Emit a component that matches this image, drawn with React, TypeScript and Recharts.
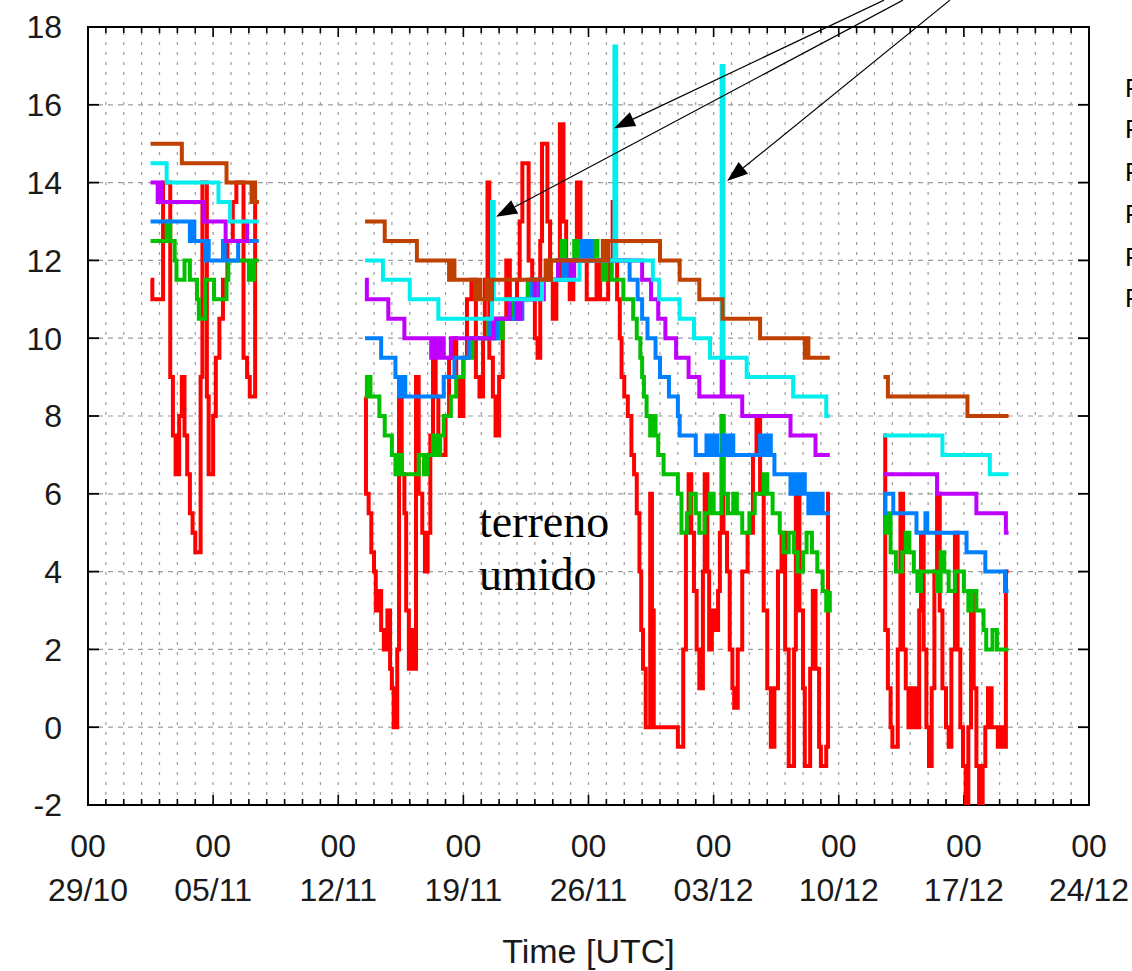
import React from 'react';
import {
  LineChart,
  Line,
  XAxis,
  YAxis,
  CartesianGrid,
  ReferenceLine,
  ReferenceArea,
  ReferenceDot,
} from 'recharts';

type Pt = [number, number | null];

// x = days since 29/10 00 UTC, y = temperature (°C)
const redA: Pt[] = [[3.5,11.5],[3.6,11],[4.2,14],[4.6,9],[4.75,7.5],[4.9,6.5],[5.1,8],[5.25,9],[5.4,7.5],[5.55,6.5],[5.7,5.5],[5.85,5],[6.0,4.5],[6.3,9],[6.4,14],[6.65,8.5],[6.75,6.5],[7.0,8],[7.15,9.5],[7.35,10.5],[7.55,11.5],[7.8,12.5],[8.1,13.5],[8.3,14],[8.7,9.5],[8.9,9],[9.05,8.5],[9.35,13.5],[9.55,13.5]];
const redB: Pt[] = [[15.5,8.5],[15.55,6],[15.7,5.5],[15.85,4.5],[16.0,4],[16.1,3],[16.25,3.5],[16.4,2.5],[16.55,2],[16.75,3],[16.9,1.5],[17.0,1],[17.1,0],[17.3,2],[17.4,9],[17.55,6.5],[17.7,5.5],[17.8,3],[17.95,1.5],[18.1,2.5],[18.2,1.5],[18.35,9],[18.5,6],[18.7,5],[18.85,4],[19.0,5],[19.15,7.5],[19.3,9.5],[19.45,8.5],[19.6,7],[19.85,7],[20.0,8],[20.2,9.5],[20.45,10],[20.6,9],[20.8,8],[21.0,9.5],[21.2,11],[21.45,11.5],[21.7,9],[21.9,8.5],[22.1,10],[22.2,11.5],[22.35,14],[22.45,9.5],[22.65,8.5],[22.8,7.5],[23.0,9],[23.2,10.5],[23.4,12],[23.6,11],[23.8,10.5],[24.0,11.5],[24.15,13],[24.3,14.5],[24.65,12],[24.85,11],[25.0,10],[25.15,9.5],[25.3,12.5],[25.4,15],[25.7,13],[25.85,11.5],[26.0,10.5],[26.2,11.5],[26.4,15.5],[26.6,13],[26.75,11.5],[26.95,11],[27.15,12],[27.35,14],[27.55,12.5],[27.75,12],[27.9,11],[28.2,11],[28.45,12],[28.65,11],[28.9,11],[29.1,12],[29.35,13.5],[29.45,12],[29.6,11],[29.75,10],[29.85,9],[30.0,8.5],[30.2,8],[30.4,7],[30.55,6.5],[30.7,5.5],[30.85,4],[30.95,2.5],[31.05,1.5],[31.2,0],[31.45,6],[31.55,3],[31.65,0],[33.0,-0.5],[33.3,2],[33.45,5],[33.6,6.5],[33.75,5],[33.9,3.5],[34.05,2],[34.2,1],[34.4,4],[34.5,6.5],[34.65,4],[34.75,2],[34.9,3],[35.1,2.5],[35.25,3.5],[35.35,5],[35.45,8],[35.55,5],[35.75,4],[35.9,2],[36.05,1],[36.15,0.5],[36.35,2],[36.6,4],[36.9,5],[37.2,7],[37.4,8],[37.6,6],[37.8,3],[38.0,1],[38.2,-0.5],[38.4,1],[38.6,4],[38.8,5],[39.0,2],[39.2,-1],[39.5,2],[39.6,6],[39.8,3],[40.0,1],[40.1,-1],[40.4,1.5],[40.55,3.5],[40.7,1.5],[40.9,-0.5],[41.0,-1],[41.3,-0.5],[41.4,6],[41.5,6]];
const redC: Pt[] = [[44.5,7.5],[44.6,2.5],[44.75,1],[44.9,0],[45.0,-0.5],[45.3,2],[45.45,6],[45.6,2],[45.75,1],[45.9,0],[46.1,1],[46.3,0],[46.5,3],[46.6,5],[46.75,2],[46.9,0],[47.05,-1],[47.2,1],[47.35,4],[47.5,6],[47.65,3],[47.8,1],[48.0,0],[48.15,-0.5],[48.3,2],[48.5,5],[48.65,2],[48.8,0],[48.95,-1],[49.1,-2],[49.25,0],[49.4,3.5],[49.55,1],[49.7,-1],[49.85,-2],[50.05,-1],[50.2,0],[50.35,1],[50.55,0],[50.7,0],[50.9,-0.5],[51.1,0],[51.25,-0.5],[51.35,4],[51.5,4]];

const greenA: Pt[] = [[3.5,12.5],[4.4,13],[4.6,12.5],[4.85,12],[4.95,11.5],[5.4,12],[5.7,11.5],[6.1,11],[6.2,10.5],[6.55,11.5],[7.05,11],[7.75,11.5],[7.85,12],[8.9,12],[9.0,11.5],[9.1,12],[9.2,11.5],[9.3,12],[9.55,12]];
const greenB: Pt[] = [[15.5,9],[15.6,8.5],[15.7,9],[15.8,8.5],[16.3,8],[16.6,7.5],[17.0,7],[17.2,6.5],[17.4,7],[17.55,6.5],[18.5,7],[18.8,6.5],[19.0,7],[19.3,7.5],[19.5,7],[19.7,7.5],[19.9,8],[20.3,8.5],[20.6,9],[21.0,9.5],[21.5,10],[22.4,10.5],[22.6,10],[22.8,10.5],[23.0,10],[23.2,10.5],[23.7,11],[24.6,11.5],[25.8,12],[26.5,12.5],[26.7,12],[27.2,12.5],[27.4,12],[28.3,12.5],[28.5,12],[28.8,11.5],[29.0,12],[29.3,11.5],[29.95,11],[30.5,10.5],[30.7,10],[30.9,9.5],[31.0,9],[31.1,8.5],[31.25,8],[31.45,7.5],[31.6,8],[31.75,7.5],[31.9,7],[32.2,6.5],[33.0,6],[33.2,5],[33.5,5.5],[33.7,6],[34.0,5.5],[34.2,5],[34.5,5.5],[34.8,6],[35.0,5.5],[35.45,8],[35.55,6],[35.8,5.5],[36.1,6],[36.3,5.5],[36.6,5],[37.0,5.5],[37.3,6],[37.8,6.5],[38.0,6],[38.3,5.5],[38.7,5],[38.9,4.5],[39.2,5],[39.5,4.5],[39.7,4],[40.0,4.5],[40.2,5],[40.5,4.5],[40.8,4],[41.1,3.5],[41.3,3],[41.5,3.5]];
const greenC: Pt[] = [[44.5,5.5],[44.6,5],[44.7,5.5],[44.9,4.5],[45.2,4],[45.55,4.5],[45.75,5],[45.95,4.5],[46.2,4],[46.4,3.5],[46.6,4],[47.5,3.5],[47.7,4.5],[47.9,4],[48.15,3.5],[48.5,4],[49.0,3.5],[49.25,3],[49.45,3.5],[49.7,3],[50.1,2.5],[50.25,2],[50.6,2.5],[50.85,2],[51.5,2]];

const blueA: Pt[] = [[3.5,13],[5.7,12.5],[5.85,13],[5.95,12.5],[6.55,12],[6.65,12.5],[6.75,12],[7.55,12.5],[7.65,12],[8.4,12.5],[9.55,12.5]];
const blueB: Pt[] = [[15.5,10],[16.4,9.5],[17.2,9],[17.4,8.5],[17.6,9],[17.75,8.5],[19.9,9],[20.5,9.5],[21.3,10],[22.5,10.5],[22.7,10],[22.9,10.5],[23.9,11],[24.1,10.5],[24.3,11],[24.8,11.5],[25.0,11],[25.2,11.5],[26.3,12],[26.6,11.5],[26.8,12],[27.6,12.5],[27.8,12],[28.0,12.5],[28.2,12],[30.3,11.5],[30.75,11],[31.0,10.5],[31.3,10],[31.75,9.5],[32.0,9],[32.5,8.5],[33.0,8],[33.1,7.5],[34.0,7],[34.6,7.5],[34.8,7],[35.0,7.5],[35.2,7],[35.5,7.5],[35.7,7],[35.9,7.5],[36.1,7],[37.6,7.5],[37.8,7],[38.0,7.5],[38.2,7],[38.4,6.5],[39.3,6],[39.5,6.5],[39.7,6],[39.9,6.5],[40.1,6],[40.3,5.5],[40.5,6],[40.7,5.5],[40.9,6],[41.1,5.5],[41.5,5.5]];
const blueC: Pt[] = [[44.5,5.5],[44.6,6],[45.05,5.5],[46.35,5],[46.85,5.5],[46.95,5],[49.15,4.5],[50.2,4],[51.3,3.5],[51.5,3.5]];

const purpleA: Pt[] = [[3.5,14],[3.9,13.5],[4.0,14],[4.1,13.5],[6.5,13],[7.7,12.5],[8.9,13],[9.0,13]];
const purpleB: Pt[] = [[15.5,11.5],[15.6,11],[16.8,10.5],[17.7,10],[19.2,9.5],[19.4,10],[19.55,9.5],[19.75,10],[19.9,9.5],[20.3,10],[22.7,10.5],[23.6,11],[24.0,10.5],[24.2,11],[25.0,11.5],[25.3,11],[25.5,11.5],[26.3,12],[27.0,11.5],[27.2,12],[31.0,11.5],[31.5,11],[31.9,10.5],[32.3,10],[32.9,9.5],[33.6,9],[34.2,8.5],[35.45,9.5],[35.55,8.5],[36.6,8],[39.3,7.5],[40.7,7],[41.5,7]];
const purpleC: Pt[] = [[44.5,6.5],[47.5,6],[49.7,5.5],[51.2,5.5],[51.35,5],[51.5,5]];

const cyanA: Pt[] = [[3.5,14.5],[4.4,14],[7.3,13.5],[7.95,13],[9.55,13]];
const cyanB: Pt[] = [[15.5,12],[16.5,11.5],[18.0,11],[19.6,10.5],[22.6,13.5],[22.7,11],[25.4,11.5],[27.5,12],[29.45,17.5],[29.55,12],[31.6,11.5],[31.95,11],[33.1,10.5],[33.9,10],[34.8,9.5],[35.45,17],[35.55,9.5],[36.85,9],[39.45,8.5],[41.3,8],[41.5,8]];
const cyanC: Pt[] = [[44.5,7.5],[47.8,7],[50.45,6.5],[51.5,6.5]];

const brownA: Pt[] = [[3.5,15],[5.25,14.5],[7.75,14],[9.15,13.5],[9.25,14],[9.35,13.5],[9.55,13.5]];
const brownB: Pt[] = [[15.5,13],[16.6,12.5],[18.4,12],[20.2,11.5],[20.35,12],[20.5,11.5],[21.65,11],[21.8,11.5],[21.95,11],[22.3,11.5],[22.45,11],[22.6,11.5],[25.6,12],[25.75,11.5],[25.9,12],[28.8,12.5],[28.95,12],[29.1,12.5],[32.0,12],[33.1,11.5],[34.2,11],[35.5,10.5],[37.6,10],[40.1,9.5],[40.2,10],[40.3,9.5],[41.5,9.5]];
const brownC: Pt[] = [[44.5,9],[44.75,8.5],[49.2,8],[51.5,8]];

const yTicks = [-2, 0, 2, 4, 6, 8, 10, 12, 14, 16, 18];
const weekHourLabels = ['00', '00', '00', '00', '00', '00', '00', '00', '00'];
const weekDateLabels = ['29/10', '05/11', '12/11', '19/11', '26/11', '03/12', '10/12', '17/12', '24/12'];
const dayTicks = Array.from({ length: 57 }, (_, i) => i);
const legendLabels = ['Prof. 0 cm', 'Prof. 5 cm', 'Prof. 10 cm', 'Prof. 20 cm', 'Prof. 50 cm', 'Prof. 100 cm'];
const legendYs = [16.2, 15.15, 14.05, 12.95, 11.85, 10.8];

const GAP1 = 12;
const GAP2 = 43;
const build = (a: Pt[], b: Pt[], c: Pt[]) =>
  [...a, [GAP1, null] as Pt, ...b, [GAP2, null] as Pt, ...c].map(([d, v]) => ({ d, v }));

const series = [
  { name: 'red', color: '#FF0000', data: build(redA, redB, redC) },
  { name: 'green', color: '#00C000', data: build(greenA, greenB, greenC) },
  { name: 'blue', color: '#0080FF', data: build(blueA, blueB, blueC) },
  { name: 'purple', color: '#C000FF', data: build(purpleA, purpleB, purpleC) },
  { name: 'cyan', color: '#00EEEE', data: build(cyanA, cyanB, cyanC) },
  { name: 'brown', color: '#C04000', data: build(brownA, brownB, brownC) },
];

// annotation arrows (tip, tail) in data coordinates
const arrows = [
  [{ x: 22.83, y: 13.12 }, { x: 45.59, y: 18.69 }],
  [{ x: 29.43, y: 15.4 }, { x: 44.53, y: 18.69 }],
  [{ x: 35.75, y: 14.04 }, { x: 48.22, y: 18.69 }],
];

const SANS = "'Liberation Sans', Arial, Helvetica, sans-serif";
const SERIF = "'Liberation Serif', 'Times New Roman', serif";

const XTick = (props: any) => {
  const { x, y, payload } = props;
  const v = Number(payload?.value);
  if (v % 7 !== 0) return <g />;
  const i = v / 7;
  return (
    <g>
      <text x={x} y={y + 44} textAnchor="middle" fontSize={32} fill="#1a1a1a" fontFamily={SANS}>
        {weekHourLabels[i]}
      </text>
      <text x={x} y={y + 88} textAnchor="middle" fontSize={32} fill="#1a1a1a" fontFamily={SANS}>
        {weekDateLabels[i]}
      </text>
    </g>
  );
};

const VGrid = (p: any) => {
  const { x1, y1, y2, index } = p;
  const top = Math.min(y1, y2);
  const bot = Math.max(y1, y2);
  const len = (index ?? 1) % 7 === 0 ? 10 : 6;
  return (
    <g key={p.key}>
      <line x1={x1} x2={x1} y1={bot} y2={top} stroke="#9c9c9c" strokeWidth={1.2} strokeDasharray="3 7" />
      <line x1={x1} x2={x1} y1={bot} y2={bot - len} stroke="#000" strokeWidth={1.6} />
      <line x1={x1} x2={x1} y1={top} y2={top + len} stroke="#000" strokeWidth={1.6} />
    </g>
  );
};

const HGrid = (p: any) => {
  const { x1, x2, y1 } = p;
  const l = Math.min(x1, x2);
  const r = Math.max(x1, x2);
  return (
    <g key={p.key}>
      <line x1={l} x2={r} y1={y1} y2={y1} stroke="#9c9c9c" strokeWidth={1.2} strokeDasharray="5 5" />
      <line x1={l} x2={l + 11} y1={y1} y2={y1} stroke="#000" strokeWidth={1.8} />
      <line x1={r} x2={r - 11} y1={y1} y2={y1} stroke="#000" strokeWidth={1.8} />
    </g>
  );
};

const ArrowShape = (p: any) => {
  const { x1, y1, x2, y2 } = p;
  const tipFirst = y1 > y2;
  const tx = tipFirst ? x1 : x2;
  const ty = tipFirst ? y1 : y2;
  const fx = tipFirst ? x2 : x1;
  const fy = tipFirst ? y2 : y1;
  const dx = tx - fx;
  const dy = ty - fy;
  const len = Math.hypot(dx, dy) || 1;
  const ux = dx / len;
  const uy = dy / len;
  const L = 21;
  const W = 7.5;
  const bx = tx - ux * L;
  const by = ty - uy * L;
  const pts = `${tx},${ty} ${bx - uy * W},${by + ux * W} ${bx + uy * W},${by - ux * W}`;
  return (
    <g>
      <line x1={fx} y1={fy} x2={bx} y2={by} stroke="#000" strokeWidth={1.2} />
      <polygon points={pts} fill="#000" />
    </g>
  );
};

const textShape = (label: string, size: number, family: string) => (p: any) => (
  <text x={p.cx} y={p.cy} fontSize={size} fontFamily={family} fill="#000">
    {label}
  </text>
);

export default function App() {
  return (
    <div style={{ position: 'absolute', left: 0, top: 0, width: 1132, height: 971, background: '#fff', overflow: 'hidden' }}>
      <LineChart width={1132} height={971} margin={{ top: 27, right: 43, bottom: 106, left: 28 }}>
        <CartesianGrid horizontal={HGrid} vertical={VGrid} />
        <XAxis
          type="number"
          dataKey="d"
          domain={[0, 56]}
          ticks={dayTicks}
          interval={0}
          allowDataOverflow
          height={60}
          axisLine={false}
          tickLine={false}
          tickSize={6}
          tickMargin={2}
          tick={XTick}
          label={{
            content: (lp: any) => {
              const vb = lp.viewBox || { x: 88, y: 805, width: 1001 };
              return (
                <text x={vb.x + vb.width / 2} y={vb.y + 158} textAnchor="middle" fontSize={34} fill="#1a1a1a" fontFamily={SANS}>
                  Time [UTC]
                </text>
              );
            },
          }}
        />
        <YAxis
          type="number"
          domain={[-2, 18]}
          ticks={yTicks}
          interval={0}
          allowDataOverflow
          width={60}
          axisLine={false}
          tickLine={false}
          tickSize={6}
          tickMargin={20}
          tick={{ fontSize: 32, fill: '#1a1a1a', fontFamily: SANS }}
        />
        {series.map((s) => (
          <Line
            key={s.name}
            data={s.data}
            dataKey="v"
            type="stepAfter"
            stroke={s.color}
            strokeWidth={4}
            dot={false}
            activeDot={false}
            connectNulls={false}
            isAnimationActive={false}
          />
        ))}
        <ReferenceArea x1={0} x2={56} y1={-2} y2={18} fill="none" fillOpacity={0} stroke="#000" strokeWidth={2} />
        {arrows.map((seg, i) => (
          <ReferenceLine key={`arrow-${i}`} segment={seg} ifOverflow="visible" shape={ArrowShape} />
        ))}
        <ReferenceDot x={21.87} y={4.89} r={1} ifOverflow="visible" shape={textShape('terreno', 46, SERIF)} />
        <ReferenceDot x={21.87} y={3.53} r={1} ifOverflow="visible" shape={textShape('umido', 46, SERIF)} />
        {legendLabels.map((lab, i) => (
          <ReferenceDot key={`leg-${i}`} x={58.02} y={legendYs[i]} r={1} ifOverflow="visible" shape={textShape(lab, 26, SANS)} />
        ))}
      </LineChart>
    </div>
  );
}
